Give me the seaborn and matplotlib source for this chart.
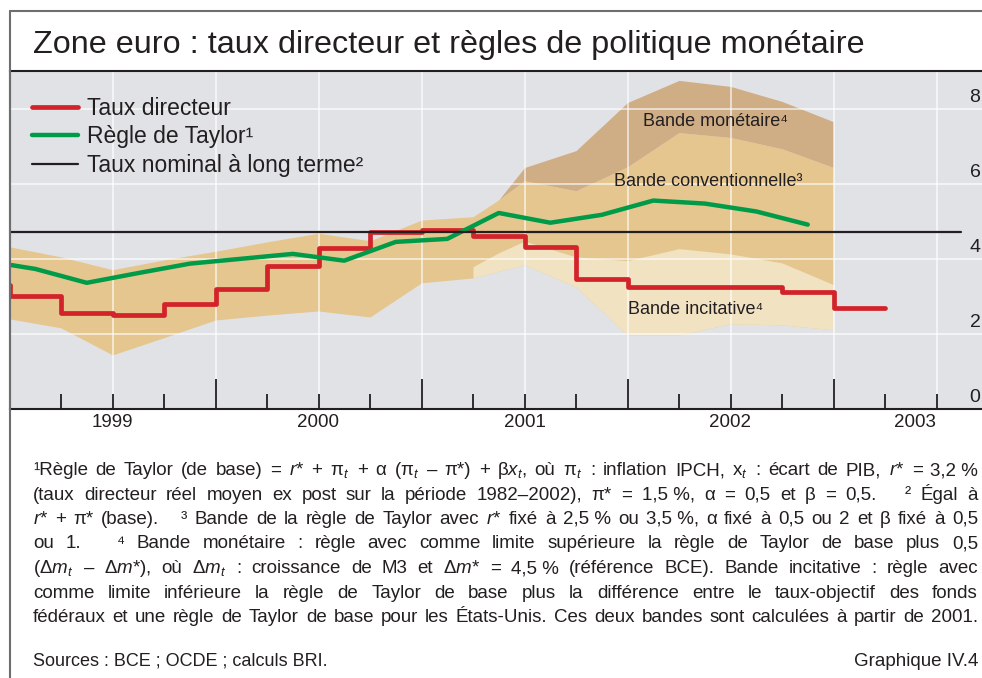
import numpy as np
import matplotlib
matplotlib.use("Agg")
import matplotlib.pyplot as plt
from matplotlib.lines import Line2D
from matplotlib.transforms import blended_transform_factory, offset_copy
import seaborn as sns

# Taux directeur : moyennes trimestrielles (debut de trimestre, en annees decimales)
taux_dates = np.arange(1998.75, 2003.01, 0.25)
taux_dir = [3.3, 3.0, 2.55, 2.5, 2.8, 3.2, 3.8, 4.3, 4.72, 4.77, 4.6, 4.32, 3.47,
            3.25, 3.25, 3.25, 3.12, 2.7]
taux_fin = 2003.25

# Regle de Taylor (milieu de trimestre)
taylor_dates = np.arange(1998.875, 2002.9, 0.25)
taylor = [3.95, 3.73, 3.36, 3.62, 3.87, 4.0, 4.13, 3.95, 4.45, 4.53, 5.22, 4.96,
          5.17, 5.55, 5.47, 5.26, 4.91]

# Taux nominal a long terme (r* + pi*)
lt_dates = [1998.75, 2003.62]
lt_taux = [4.7, 4.7]

# Bandes
bande_dates = [1999.0, 1999.25, 1999.5, 1999.75, 2000.0, 2000.25, 2000.5, 2000.75,
               2001.0, 2001.25, 2001.375, 2001.5, 2001.75, 2002.0, 2002.25, 2002.5,
               2002.75, 2003.0]
conv_haut = [4.32, 4.05, 3.71, 3.97, 4.2, 4.45, 4.68, 4.48, 5.03, 5.12, 5.57, 6.08,
             5.81, 6.45, 7.36, 7.23, 6.93, 6.43]
conv_bas = [2.4, 2.16, 1.44, 1.9, 2.37, 2.5, 2.61, 2.45, 3.36, 3.49, 3.67, 3.84,
            3.25, 1.97, 1.97, 2.27, 2.24, 2.11]
nan = np.nan
mon_haut = [nan] * 10 + [5.57, 6.43, 6.88, 8.16, 8.75, 8.59, 8.19, 7.65]
inc_haut = [nan] * 9 + [3.79, 4.16, 4.47, 4.05, 3.95, 4.27, 4.13, 3.89, 3.31]
inc_bas = [nan] * 9 + [3.49, 3.67, 3.84, 3.25, 1.97, 1.97, 2.27, 2.24, 2.11]

annees = [1999, 2000, 2001, 2002, 2003]
y_ticks = [0, 2, 4, 6, 8]

titre = "Zone euro : taux directeur et règles de politique monétaire"
notes = [
    "¹Règle de Taylor (de base) = $r$* + π$_t$ + α (π$_t$ – π*) + β$x_t$, où π$_t$ : inflation IPCH, x$_t$ : écart de PIB, $r$* = 3,2\u00a0%",
    "(taux directeur réel moyen ex post sur la période 1982–2002), π* = 1,5\u00a0%, α = 0,5 et β = 0,5.   ² Égal à",
    "$r$* + π* (base).   ³ Bande de la règle de Taylor avec $r$* fixé à 2,5\u00a0% ou 3,5\u00a0%, α fixé à 0,5 ou 2 et β fixé à 0,5",
    "ou 1.   ⁴ Bande monétaire : règle avec comme limite supérieure la règle de Taylor de base plus 0,5",
    "(Δ$m_t$ – Δ$m$*), où Δ$m_t$ : croissance de M3 et Δ$m$* = 4,5\u00a0% (référence BCE). Bande incitative : règle avec",
    "comme limite inférieure la règle de Taylor de base plus la différence entre le taux-objectif des fonds",
    "fédéraux et une règle de Taylor de base pour les États-Unis. Ces deux bandes sont calculées à partir de 2001.",
]
sources = "Sources : BCE ; OCDE ; calculs BRI."
graphique = "Graphique IV.4"

sns.set_style("white")
fams = ["Liberation Sans", "DejaVu Sans"]
plt.rcParams["font.family"] = fams
plt.rcParams["mathtext.fontset"] = "custom"
plt.rcParams["mathtext.rm"] = "Liberation Sans"
plt.rcParams["mathtext.it"] = "Liberation Sans:italic"
plt.rcParams["mathtext.bf"] = "Liberation Sans:bold"

texte = "#231f20"
W, H = 982, 678
fig = plt.figure(figsize=(W / 100, H / 100), dpi=100)

def fx(x):
    return x / W

def fy(y):
    return 1 - y / H

ax = fig.add_axes([fx(9.5), fy(409), fx(982 - 9.5), (409 - 71) / H])
ax.set_facecolor("#e1e2e6")
ax.set_axisbelow(False)

# bandes
ax.fill_between(bande_dates, conv_bas, conv_haut, color="#e5c68f", lw=0, zorder=1)
ax.fill_between(bande_dates, conv_haut, mon_haut, color="#cfae86", lw=0, zorder=1)
ax.fill_between(bande_dates, inc_bas, inc_haut, color="#f1e3c2", lw=0, zorder=1)

# grille
for x in np.arange(1999.0, 2004.0, 0.5):
    ax.axvline(x, color="white", lw=1.2, alpha=0.7, zorder=1.5)
for y in y_ticks[1:]:
    ax.axhline(y, color="white", lw=1.2, alpha=0.7, zorder=1.5)

sns.lineplot(x=list(taux_dates) + [taux_fin], y=taux_dir + [taux_dir[-1]], ax=ax,
             drawstyle="steps-post", color="#d2232a", lw=3.4, label="Taux directeur",
             zorder=3)
sns.lineplot(x=taylor_dates, y=taylor, ax=ax, color="#009b48", lw=3.2,
             label="Règle de Taylor¹", zorder=4)
sns.lineplot(x=lt_dates, y=lt_taux, ax=ax, color=texte, lw=1.6,
             label="Taux nominal à long terme²", zorder=5)

ax.set_xlim(1999.0, 1999.0 + (982 - 9.5) / 206)
ax.set_ylim(0, 9)
ax.set_xlabel("")
ax.set_ylabel("")

ax.set_xticks(annees[1:])
ax.set_xticks([q for q in np.arange(1999.25, 2003.6, 0.25) if q % 1 != 0], minor=True)
ax.tick_params(axis="x", which="both", direction="in", bottom=True, top=False,
               color=texte, width=1.3, labelbottom=False)
ax.tick_params(axis="x", which="major", length=21.6)
ax.tick_params(axis="x", which="minor", length=10.8)
ax.set_yticks(y_ticks)
ax.tick_params(axis="y", left=False, right=False, labelleft=False)

for side in ["top", "bottom"]:
    ax.spines[side].set_color(texte)
    ax.spines[side].set_linewidth(1.5)
ax.spines["left"].set_color("#6d6e70")
ax.spines["left"].set_linewidth(1.5)
ax.spines["right"].set_visible(False)

# etiquettes des axes
trans_x = blended_transform_factory(ax.transData, ax.transAxes)
for i, an in enumerate(annees):
    last = i == len(annees) - 1
    ax.text(an + 0.5 - (0.005 if last else 0), -0.015, str(an), transform=trans_x,
            ha="right" if last else "center", va="top", fontsize=13.5, color=texte)
trans_y = offset_copy(blended_transform_factory(ax.transAxes, ax.transData),
                      fig=fig, x=0, y=3, units="dots")
for v in y_ticks:
    ax.text((980.5 - 9.5) / (982 - 9.5), v, str(v), transform=trans_y, ha="right",
            va="bottom", fontsize=14, color=texte, clip_on=False)

# libelles des bandes
ax.text(2002.425, 7.65, "Bande monétaire⁴", ha="center", va="center", fontsize=13,
        color=texte, zorder=6)
ax.text(2002.393, 6.05, "Bande conventionnelle³", ha="center", va="center",
        fontsize=13, color=texte, zorder=6)
ax.text(2002.33, 2.64, "Bande incitative⁴", ha="center", va="center", fontsize=13,
        color=texte, zorder=6)

leg = ax.legend(loc="upper left", bbox_to_anchor=((32 - 9.5) / 972.5, 0.924),
                frameon=False, fontsize=16.5, handlelength=2.0, handletextpad=0.4,
                labelspacing=0.25, borderpad=0, borderaxespad=0)
for t in leg.get_texts():
    t.set_color(texte)

# cadre et titre
fig.add_artist(Line2D([fx(10), fx(10)], [fy(11), fy(H)], color="#6d6e70", lw=1.5))
fig.add_artist(Line2D([fx(10), 1], [fy(11), fy(11)], color="#6d6e70", lw=1.5))
fig.text(fx(33), fy(53), titre, fontsize=23.3, va="baseline", color=texte)

# notes justifiees
renderer = fig.canvas.get_renderer()
gauche, droite = 33, 978
for i, ligne in enumerate(notes):
    base = 475 + 24.5 * i
    mots = ligne.split(" ")
    taille = 13.5
    while True:
        objs = [fig.text(0, fy(base), m, fontsize=taille, va="baseline", ha="left",
                         color=texte) for m in mots]
        larg = [o.get_window_extent(renderer).width if m else 0.0
                for o, m in zip(objs, mots)]
        gap = (droite - gauche - sum(larg)) / max(len(mots) - 1, 1)
        if gap >= 3.5 or taille < 10:
            break
        for o in objs:
            o.remove()
        taille -= 0.25
    x = gauche
    for o, w in zip(objs, larg):
        o.set_x(fx(x))
        x += w + gap

fig.text(fx(gauche), fy(666), sources, fontsize=13, va="baseline", ha="left",
         color=texte)
fig.text(fx(droite), fy(666), graphique, fontsize=13.5, va="baseline", ha="right",
         color=texte)

fig.savefig("out.png", dpi=100)
